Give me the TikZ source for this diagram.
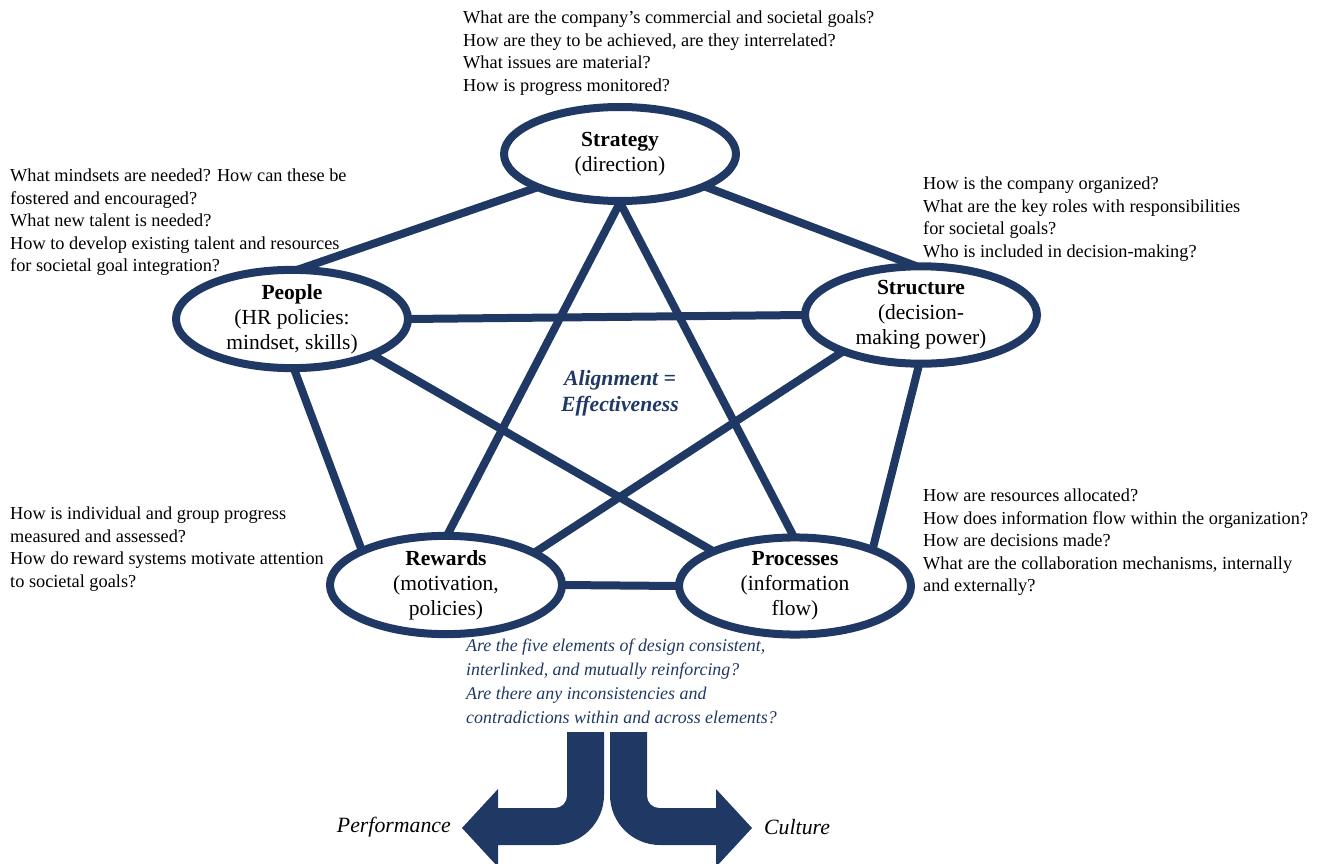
\documentclass[tikz,border=0pt]{standalone}
\usepackage{fontspec}
\setmainfont{Liberation Serif}
\usetikzlibrary{shapes.geometric}
\definecolor{navy}{RGB}{32,56,100}
\tikzset{
  elem/.style={ellipse, draw=navy, line width=8pt, minimum width=232pt, minimum height=94pt,
    inner sep=0pt, outer sep=0pt, align=center, font=\fontsize{21.5}{25}\selectfont},
  link/.style={draw=navy, line width=8pt},
  qtext/.style={anchor=north west, align=left, inner sep=0pt, font=\fontsize{18.3}{22.4}\selectfont},
  bentarrow/.style={fill=navy, draw=none}
}
\begin{document}
\begin{tikzpicture}[x=1pt,y=-1pt]
\useasboundingbox (0,0) rectangle (1320,864);

% element ellipses
\node[elem] (strategy) at (620,154) {\textbf{Strategy}\\(direction)};
\node[elem, minimum height=98pt] (people) at (292,319) {\textbf{People}\\(HR policies:\\mindset, skills)};
\node[elem] (structure) at (921,315) {\textbf{Structure}\\(decision-\\making power)};
\node[elem] (rewards) at (446,585) {\textbf{Rewards}\\(motivation,\\policies)};
\node[elem] (processes) at (795,586) {\textbf{Processes}\\(information\\flow)};

% pentagon
\draw[link] (strategy.202) -- (people.84);
\draw[link] (strategy.339) -- (structure.95);
\draw[link] (people.0) -- (structure.180);
\draw[link] (people.272) -- (rewards.158);
\draw[link] (structure.268) -- (processes.25);
\draw[link] (rewards.0) -- (processes.180);
% star
\draw[link] (strategy.271) -- (rewards.89);
\draw[link] (strategy.269) -- (processes.91);
\draw[link] (people.336) -- (processes.157);
\draw[link] (structure.205) -- (rewards.20);

% centre text
\node[align=center, text=navy, inner sep=0pt, font=\fontsize{21.7}{26}\selectfont\bfseries\itshape] (align) at (620,393) {Alignment =\\Effectiveness};

% questions
\node[qtext] (qstrategy) at (463,11) {What are the company’s commercial and societal goals?\\How are they to be achieved, are they interrelated?\\What issues are material?\\How is progress monitored?};
\node[qtext] (qpeople) at (10,169) {What mindsets are needed? How can these be\\fostered and encouraged?\\What new talent is needed?\\How to develop existing talent and resources\\for societal goal integration?};
\node[qtext] (qstructure) at (923,177) {How is the company organized?\\What are the key roles with responsibilities\\for societal goals?\\Who is included in decision-making?};
\node[qtext] (qrewards) at (10,507) {How is individual and group progress\\measured and assessed?\\How do reward systems motivate attention\\to societal goals?};
\node[qtext] (qprocesses) at (923,489) {How are resources allocated?\\How does information flow within the organization?\\How are decisions made?\\What are the collaboration mechanisms, internally\\and externally?};

\node[qtext, text=navy, font=\fontsize{17.9}{24}\selectfont\itshape] (qall) at (466,639) {Are the five elements of design consistent,\\interlinked, and mutually reinforcing?\\Are there any inconsistencies and\\contradictions within and across elements?};

% bent arrows
\fill[bentarrow] (567,732) -- (604,732) -- (604,795)
  .. controls (604,822.6) and (581.6,845) .. (554,845)
  -- (498,845) -- (498,867) -- (462,828) -- (498,789) -- (498,808) -- (555,808)
  .. controls (561.6,808) and (567,802.6) .. (567,796) -- cycle;
\fill[bentarrow] (647,732) -- (610,732) -- (610,795)
  .. controls (610,822.6) and (632.4,845) .. (660,845)
  -- (716,845) -- (716,867) -- (752,828) -- (716,789) -- (716,808) -- (659,808)
  .. controls (652.4,808) and (647,802.6) .. (647,796) -- cycle;

\node[anchor=east, inner sep=0pt, font=\fontsize{21.8}{24}\selectfont\itshape] (perf) at (451,827) {Performance};
\node[anchor=west, inner sep=0pt, font=\fontsize{21.8}{24}\selectfont\itshape] (cult) at (764,827) {Culture};
\end{tikzpicture}
\end{document}
